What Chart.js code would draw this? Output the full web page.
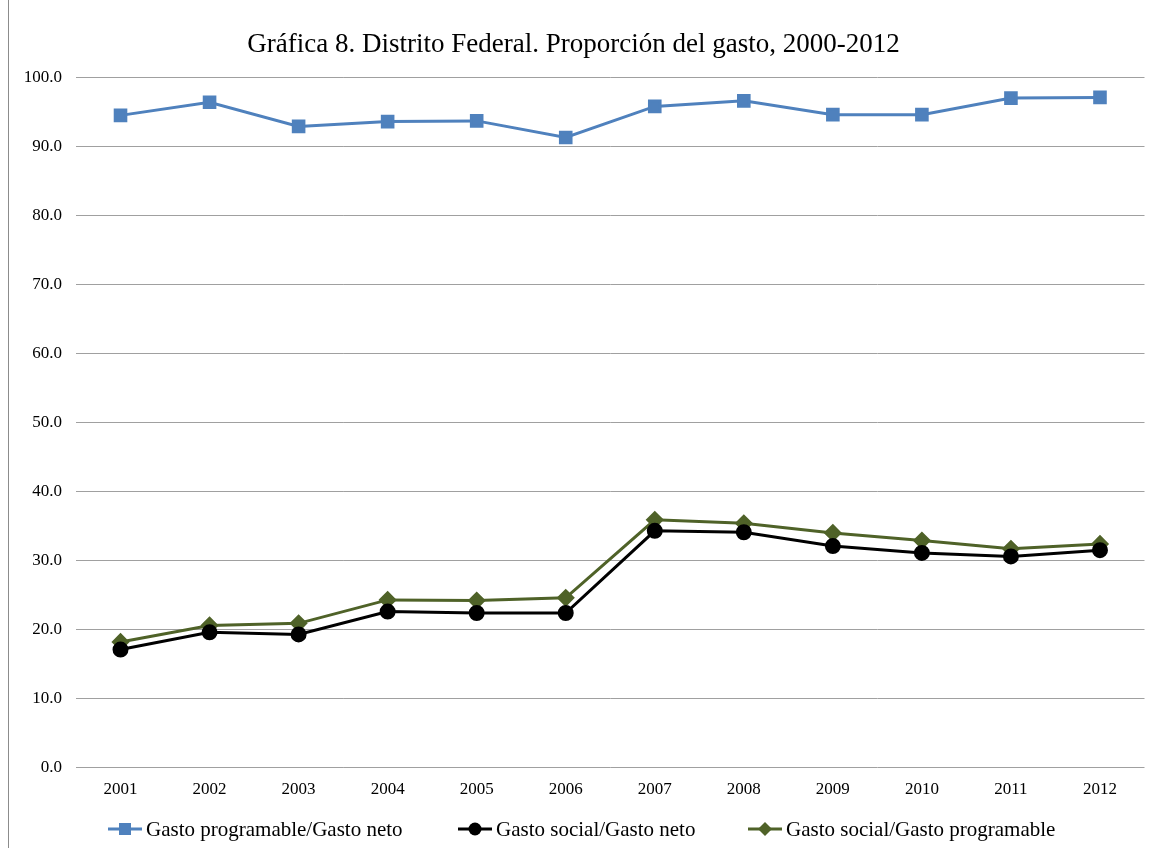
<!DOCTYPE html>
<html>
<head>
<meta charset="utf-8">
<script src="https://cdn.jsdelivr.net/npm/chart.js@4.4.0/dist/chart.umd.min.js"></script>
<style>
  html, body { margin: 0; padding: 0; background: #fff; }
  #wrap { position: absolute; left: 8px; top: -1px; width: 1160px; height: 860px; border: 1px solid #8c8c8c; box-sizing: border-box; }
  #chart { position: absolute; left: 0; top: 0; }
  #legend { position: absolute; left: 0; top: 816px; width: 1155px; height: 26px; font: 21px 'Liberation Serif', 'Times New Roman', serif; color: #000; }
  .item { position: absolute; top: 0; display: flex; align-items: center; height: 26px; white-space: nowrap; }
  .item canvas { margin-right: 4px; }
</style>
</head>
<body>
<div id="wrap"></div>
<canvas id="chart" width="1155" height="848"></canvas>
<div id="legend"></div>
<script>
// Gráfica 8 — proporción del gasto, Distrito Federal
const years = ['2001', '2002', '2003', '2004', '2005', '2006', '2007', '2008', '2009', '2010', '2011', '2012'];
const gastoProgNeto = [94.5, 96.4, 92.9, 93.6, 93.7, 91.3, 95.8, 96.6, 94.6, 94.6, 97.0, 97.1];
const gastoSocialNeto = [17.1, 19.6, 19.3, 22.6, 22.4, 22.4, 34.3, 34.1, 32.1, 31.1, 30.6, 31.5];
const gastoSocialProg = [18.2, 20.6, 20.9, 24.3, 24.2, 24.6, 35.9, 35.4, 34.0, 32.9, 31.7, 32.4];

const BLUE = '#4F81BD';
const BLACK = '#000000';
const OLIVE = '#4F6228';
const GRID = '#a0a0a0';
const FONT = "'Liberation Serif', 'Times New Roman', serif";

// legend icon: line with the marker in the middle, Excel style
function legendIcon(color, shape) {
  const c = document.createElement('canvas');
  c.width = 34; c.height = 16;
  const g = c.getContext('2d');
  g.strokeStyle = color; g.fillStyle = color; g.lineWidth = 3;
  g.beginPath(); g.moveTo(0, 8); g.lineTo(34, 8); g.stroke();
  g.beginPath();
  if (shape === 'rect') g.rect(11, 2, 12, 12);
  else if (shape === 'circle') g.arc(17, 8, 6.5, 0, Math.PI * 2);
  else { g.moveTo(17, 1); g.lineTo(24, 8); g.lineTo(17, 15); g.lineTo(10, 8); g.closePath(); }
  g.fill();
  return c;
}

const chart = new Chart(document.getElementById('chart'), {
  type: 'line',
  data: {
    labels: years,
    datasets: [
      {
        label: 'Gasto programable/Gasto neto',
        data: gastoProgNeto,
        borderColor: BLUE, backgroundColor: BLUE,
        borderWidth: 3, pointStyle: 'rect', pointRadius: 7.5,
        iconShape: 'rect', legendX: 108,
      },
      {
        label: 'Gasto social/Gasto neto',
        data: gastoSocialNeto,
        borderColor: BLACK, backgroundColor: BLACK,
        borderWidth: 3, pointStyle: 'circle', pointRadius: 6.5,
        iconShape: 'circle', legendX: 458,
      },
      {
        label: 'Gasto social/Gasto programable',
        data: gastoSocialProg,
        borderColor: OLIVE, backgroundColor: OLIVE,
        borderWidth: 3, pointStyle: 'rectRot', pointRadius: 7,
        iconShape: 'diamond', legendX: 748,
      },
    ],
  },
  options: {
    responsive: false,
    animation: false,
    layout: { padding: { left: 0, right: 8, top: 0, bottom: 36 } },
    plugins: {
      title: {
        display: true,
        text: 'Gráfica 8. Distrito Federal. Proporción del gasto, 2000-2012',
        color: '#000',
        font: { family: FONT, size: 27, weight: 'normal' },
        padding: { top: 29, bottom: 16 },
      },
      legend: { display: false },
      tooltip: { enabled: false },
    },
    scales: {
      y: {
        min: 0, max: 100,
        afterFit: (s) => { s.width = 76; },
        ticks: {
          stepSize: 10,
          color: '#000',
          padding: 14,
          font: { family: FONT, size: 17 },
          callback: (v) => v.toFixed(1),
        },
        grid: { color: GRID, drawTicks: false, lineWidth: 1 },
        border: { display: false },
      },
      x: {
        offset: true,
        ticks: {
          color: '#000',
          padding: 12,
          font: { family: FONT, size: 17 },
        },
        grid: { display: false, drawTicks: false, offset: true },
        border: { display: false },
      },
    },
  },
});

// html legend under the plot, built from the datasets
const legendEl = document.getElementById('legend');
chart.data.datasets.forEach((ds) => {
  const item = document.createElement('div');
  item.className = 'item';
  item.style.left = ds.legendX + 'px';
  item.appendChild(legendIcon(ds.borderColor, ds.iconShape));
  item.appendChild(document.createTextNode(ds.label));
  legendEl.appendChild(item);
});
</script>
</body>
</html>
